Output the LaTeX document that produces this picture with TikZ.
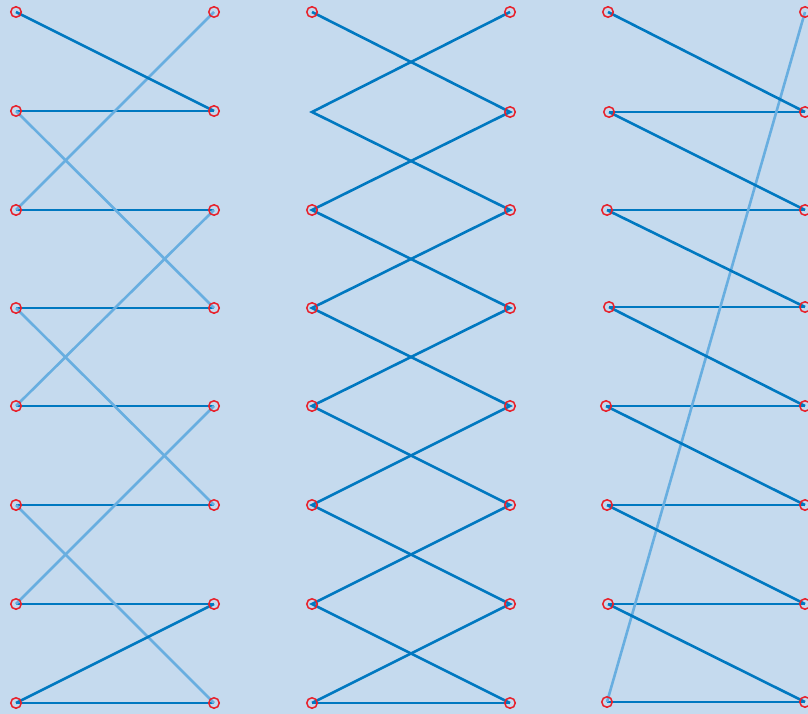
\documentclass[tikz,border=0pt]{standalone}
\usetikzlibrary{backgrounds}
\definecolor{bgc}{RGB}{197,218,238}
\definecolor{darkb}{RGB}{0,120,192}
\definecolor{lightb}{RGB}{104,174,224}
\definecolor{ptred}{RGB}{232,32,42}
\tikzset{
  pt/.style={circle,draw=ptred,line width=1.5pt,minimum size=10.5pt,inner sep=0pt},
  dk/.style={draw=darkb,line width=2.6pt},
  lt/.style={draw=lightb,line width=2.6pt},
  hz/.style={draw=lightb,line width=2.6pt,yshift=-0.9pt}
}
\begin{document}
\begin{tikzpicture}[x=1pt,y=-1pt]
\useasboundingbox (0,0) rectangle (808,714);
% points
\foreach \n/\y in {1/12,2/111,3/210,4/308,5/406,6/505,7/604,8/703}{
  \node[pt] (LA\n) at (16,\y) {};
}
\foreach \n/\y in {1/12,2/111,3/210,4/308,5/406,6/505,7/604,8/703}{
  \node[pt] (LB\n) at (214,\y) {};
}
\coordinate (MA2) at (312,112);
\foreach \n/\y in {1/12,3/210,4/308,5/406,6/505,7/604,8/703}{
  \node[pt] (MA\n) at (312,\y) {};
}
\foreach \n/\y in {1/12,2/112,3/210,4/308,5/406,6/505,7/604,8/703}{
  \node[pt] (MB\n) at (510,\y) {};
}
\foreach \n/\x/\y in {1/608/12,2/609/112,3/607/210,4/609/307,5/606/406,6/607/505,7/608/604,8/607/702}{
  \node[pt] (RA\n) at (\x,\y) {};
}
\foreach \n/\y in {1/12,2/112,3/210,4/307,5/406,6/505,7/604,8/702}{
  \node[pt] (RB\n) at (805,\y) {};
}
\begin{scope}[on background layer]
\fill[bgc] (0,0) rectangle (808,714);
% left panel
\foreach \n in {2,...,8}{
  \draw[hz] (LA\n.center) -- (LB\n.center);
  \draw[dk] (LA\n.center) -- (LB\n.center);
}
\draw[lt] (LB1.center) -- (LA3.center);
\draw[lt] (LA2.center) -- (LB4.center);
\draw[lt] (LB3.center) -- (LA5.center);
\draw[lt] (LA4.center) -- (LB6.center);
\draw[lt] (LB5.center) -- (LA7.center);
\draw[lt] (LA6.center) -- (LB8.center);
\draw[dk] (LA1.center) -- (LB2.center);
\draw[dk] (LA8.center) -- (LB7.center);
% middle panel
\draw[hz] (MA8.center) -- (MB8.center);
\draw[dk] (MA8.center) -- (MB8.center);
\draw[dk] (MA1.center) -- (MB2.center) -- (MA3.center) -- (MB4.center) -- (MA5.center) -- (MB6.center) -- (MA7.center) -- (MB8.center);
\draw[dk] (MB1.center) -- (MA2) -- (MB3.center) -- (MA4.center) -- (MB5.center) -- (MA6.center) -- (MB7.center) -- (MA8.center);
% right panel
\foreach \n in {2,...,8}{
  \draw[hz] (RA\n.center) -- (RB\n.center);
  \draw[dk] (RA\n.center) -- (RB\n.center);
}
\draw[lt] (RA8.center) -- (RB1.center);
\draw[dk] (RA1.center) -- (RB2.center);
\draw[dk] (RA2.center) -- (RB3.center);
\draw[dk] (RA3.center) -- (RB4.center);
\draw[dk] (RA4.center) -- (RB5.center);
\draw[dk] (RA5.center) -- (RB6.center);
\draw[dk] (RA6.center) -- (RB7.center);
\draw[dk] (RA7.center) -- (RB8.center);
\end{scope}
\end{tikzpicture}
\end{document}
